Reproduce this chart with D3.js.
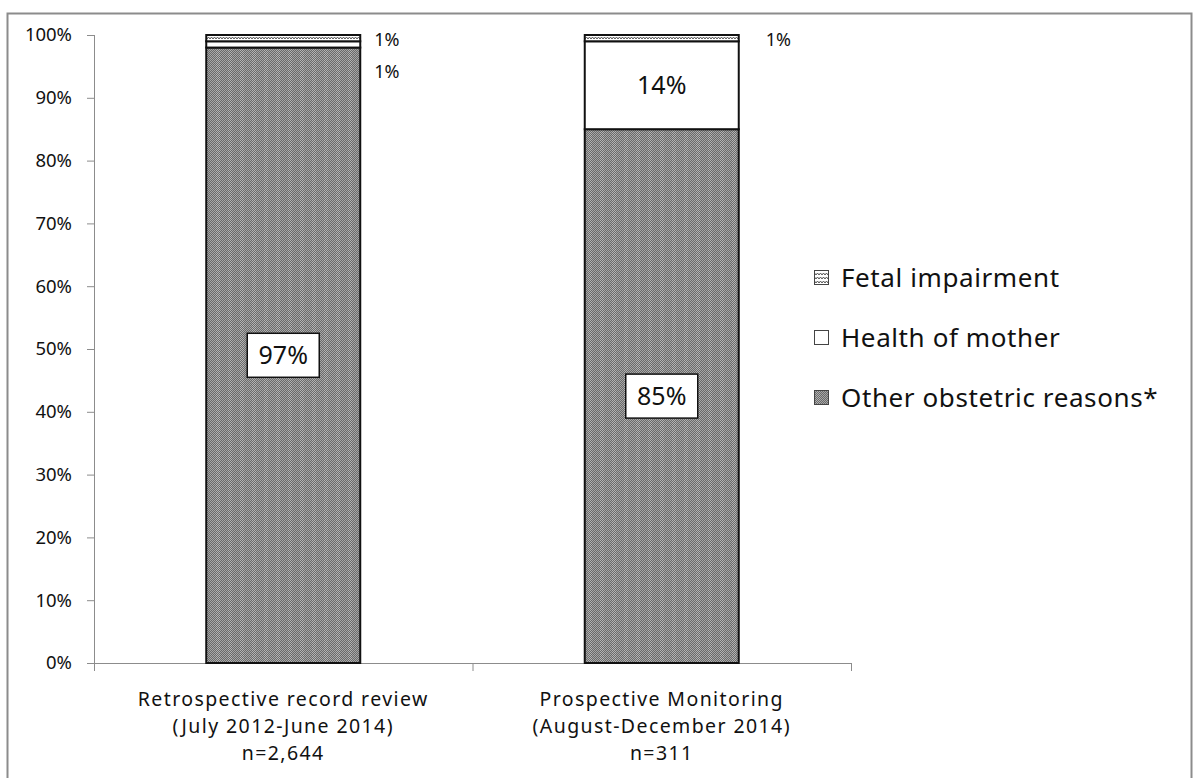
<!DOCTYPE html>
<html>
<head>
<meta charset="utf-8">
<script src="https://cdn.jsdelivr.net/npm/d3@7"></script>
<style>
  body { margin: 0; background: #fff; }
  svg { display: block; font-family: 'Noto Sans', 'Open Sans', sans-serif; }
</style>
</head>
<body>
<svg width="1199" height="778"></svg>
<script>
// categories (multi-line labels)
const categories = ['Retrospective', 'Prospective']
const categoryLines = [
  ['Retrospective record review', '(July 2012-June 2014)', 'n=2,644'],
  ['Prospective Monitoring', '(August-December 2014)', 'n=311']
]
// series values, percent (bottom to top)
const otherReasons = [98, 85]
const healthOfMother = [1, 14]
const fetalImpairment = [1, 1]
// labels as printed on the chart
const otherLabels = ['97%', '85%']
const healthLabels = ['1%', '14%']
const fetalLabels = ['1%', '1%']
const yTicks = [0, 10, 20, 30, 40, 50, 60, 70, 80, 90, 100]
const seriesNames = ['Fetal impairment', 'Health of mother', 'Other obstetric reasons*']

const svg = d3.select('svg')

// outer frame
svg.append('rect')
  .attr('x', 7.5).attr('y', 13.5)
  .attr('width', 1184).attr('height', 780)
  .attr('fill', 'none').attr('stroke', '#8c8c8c').attr('stroke-width', 2)

const defs = svg.append('defs')
// dark checker pattern with faint vertical banding
let p = defs.append('pattern').attr('id', 'dark')
  .attr('patternUnits', 'userSpaceOnUse').attr('width', 12).attr('height', 2)
p.append('rect').attr('width', 12).attr('height', 2).attr('fill', '#6a6a6a')
for (let i = 0; i < 12; i += 2) {
  const c = i < 4 ? '#b4b4b4' : '#a6a6a6'
  p.append('rect').attr('x', i).attr('y', 0).attr('width', 1).attr('height', 1).attr('fill', c)
  p.append('rect').attr('x', i + 1).attr('y', 1).attr('width', 1).attr('height', 1).attr('fill', c)
}
// wavy pattern
let w = defs.append('pattern').attr('id', 'wave')
  .attr('patternUnits', 'userSpaceOnUse').attr('width', 6).attr('height', 4)
w.append('rect').attr('width', 6).attr('height', 4).attr('fill', '#fff')
w.append('path').attr('d', 'M0,3 L1.5,1 L3,3 L4.5,1 L6,3')
  .attr('fill', 'none').attr('stroke', '#555').attr('stroke-width', 1)

const plotLeft = 94, plotRight = 851, plotTop = 35, plotBottom = 663

const x = d3.scaleBand().domain(categories).range([plotLeft, plotRight]).paddingInner(0).paddingOuter(0)
const y = d3.scaleLinear().domain([0, 100]).range([plotBottom, plotTop])
const barW = 154

// y axis
const yAxis = svg.append('g')
  .attr('transform', 'translate(' + plotLeft + ',0)')
  .call(d3.axisLeft(y).tickValues(yTicks).tickSize(7).tickPadding(15).tickFormat(d => d + '%'))
yAxis.select('.domain').attr('stroke', '#8c8c8c').attr('d', 'M0.5,' + plotTop + 'V' + plotBottom)
yAxis.selectAll('.tick line').attr('stroke', '#8c8c8c')
yAxis.selectAll('.tick text').attr('font-size', 18.5).attr('fill', '#111').attr('font-family', 'Noto Sans')

// x axis
const xAxis = svg.append('g').attr('transform', 'translate(0,' + plotBottom + ')')
xAxis.append('line').attr('x1', plotLeft - 7).attr('x2', plotRight).attr('y1', 0.5).attr('y2', 0.5)
  .attr('stroke', '#8c8c8c')
const boundaries = [plotLeft].concat(categories.map(c => x(c) + x.bandwidth()))
xAxis.selectAll('.xt').data(boundaries).enter().append('line')
  .attr('x1', d => d + 0.5).attr('x2', d => d + 0.5).attr('y1', 0).attr('y2', 8)
  .attr('stroke', '#8c8c8c')

categories.forEach((c, i) => {
  const t = svg.append('text').attr('x', x(c) + x.bandwidth() / 2).attr('y', 706)
    .attr('text-anchor', 'middle').attr('font-size', 19.5).attr('letter-spacing', 1.4).attr('fill', '#111')
  categoryLines[i].forEach((line, j) => {
    t.append('tspan').attr('x', x(c) + x.bandwidth() / 2).attr('dy', j === 0 ? 0 : 27).text(line)
  })
})

// stacked bars
const stackData = categories.map((c, i) => ({
  cat: c, other: otherReasons[i], health: healthOfMother[i], fetal: fetalImpairment[i]
}))
const stack = d3.stack().keys(['other', 'health', 'fetal'])(stackData)
const fills = { other: 'url(#dark)', health: '#fff', fetal: 'url(#wave)' }

stack.forEach(layer => {
  svg.append('g').selectAll('rect').data(layer).enter().append('rect')
    .attr('x', d => x(d.data.cat) + x.bandwidth() / 2 - barW / 2)
    .attr('y', d => y(d[1]))
    .attr('width', barW)
    .attr('height', d => y(d[0]) - y(d[1]))
    .attr('fill', fills[layer.key])
    .attr('stroke', '#111').attr('stroke-width', 2)
})

// labels for "other" with boxes
categories.forEach((c, i) => {
  const cx = x(c) + x.bandwidth() / 2
  const cy = y(otherReasons[i] / 2)
  const g = svg.append('g')
  g.append('rect').attr('x', cx - 36).attr('y', cy - 22).attr('width', 72).attr('height', 44)
    .attr('fill', '#fff').attr('stroke', '#111').attr('stroke-width', 1.5)
  g.append('text').attr('x', cx).attr('y', cy + 9).attr('text-anchor', 'middle')
    .attr('font-size', 25).attr('fill', '#111').text(otherLabels[i])
})

// health labels: large inside if big, small outside otherwise
const smallOffset = [14, 27]
categories.forEach((c, i) => {
  const cx = x(c) + x.bandwidth() / 2
  const lx = cx + barW / 2 + smallOffset[i]
  if (healthOfMother[i] > 5) {
    svg.append('text').attr('x', cx).attr('y', y(otherReasons[i] + healthOfMother[i] / 2) + 9)
      .attr('text-anchor', 'middle').attr('font-size', 25).attr('fill', '#111').text(healthLabels[i])
  } else {
    svg.append('text').attr('x', lx).attr('y', 78)
      .attr('font-size', 18).attr('fill', '#111').text(healthLabels[i])
  }
  svg.append('text').attr('x', lx).attr('y', 46)
    .attr('font-size', 18).attr('fill', '#111').text(fetalLabels[i])
})

// legend
const legendFills = ['url(#wave)', '#fff', 'url(#dark)']
seriesNames.forEach((name, i) => {
  const ly = 278 + i * 60
  svg.append('rect').attr('x', 814.5).attr('y', ly - 7.5).attr('width', 14).attr('height', 14)
    .attr('fill', legendFills[i]).attr('stroke', '#444').attr('stroke-width', 1)
  svg.append('text').attr('x', 841).attr('y', ly + 9)
    .attr('font-size', 26).attr('letter-spacing', 0.6).attr('fill', '#111').text(name)
})
</script>
</body>
</html>
